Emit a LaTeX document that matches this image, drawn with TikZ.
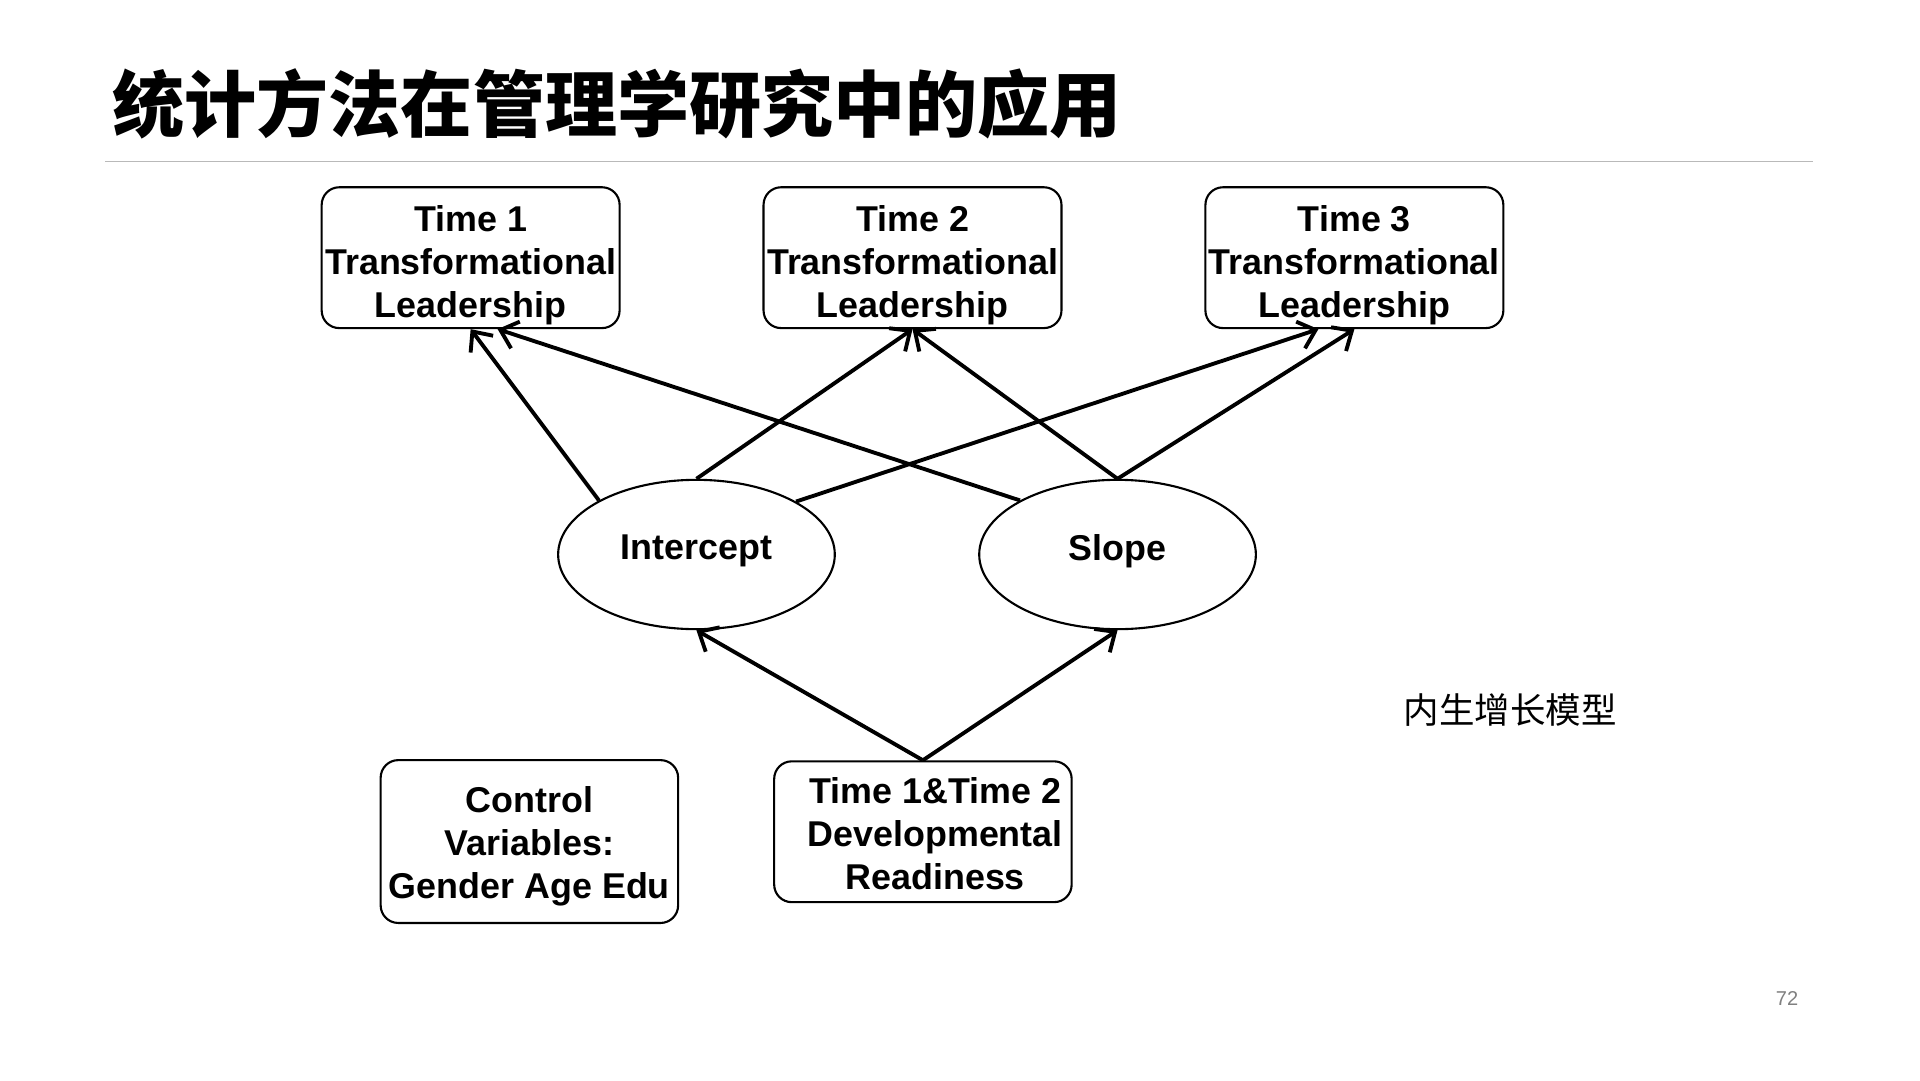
\documentclass[tikz,border=0pt]{standalone}
\usepackage{fontspec}
\setmainfont{Liberation Sans}
\newfontfamily\cjk{Noto Sans CJK SC}
\usepackage{xcolor}
\usepackage{tikz}
\usetikzlibrary{shapes,arrows.meta}
\tikzstyle{block} = [rectangle, draw, rounded corners=5pt, line width=0.6pt, text centered, align=center, inner sep=1pt, minimum width=2.974cm, minimum height=1.408cm, font=\fontsize{10.2}{12.2}\selectfont\bfseries]
\tikzstyle{latent} = [ellipse, draw, line width=0.6pt, minimum width=2.766cm, minimum height=1.493cm, font=\fontsize{10.2}{12.2}\selectfont\bfseries, execute at begin node={\rule[-4.2pt]{0pt}{1pt}}]
\tikzstyle{line} = [draw, line width=1.1pt, -{Straight Barb[length=4.5pt,width=8pt,line width=1.1pt]}]
\newcommand{\lift}[1]{\rule{0pt}{#1}}

\begin{document}
\begin{tikzpicture}[x=0.01224cm,y=-0.01224cm]
\useasboundingbox (0,0) rectangle (1568.6,882.4);
\node [anchor=west, inner sep=0pt, font=\cjk\bfseries\fontsize{20.5}{24}\selectfont] (title) at (91.5,85) {统计方法在管理学研究中的应用};
\draw [gray!55, line width=0.4pt] (86,132) -- (1481,132);

\node [block] (t1) at (384.5,210.5) {\lift{11.5pt}Time 1\\Transformational\\Leadership};
\node [block] (t2) at (745.5,210.5) {\lift{11.5pt}Time 2\\Transformational\\Leadership};
\node [block] (t3) at (1106.5,210.5) {\lift{11.5pt}Time 3\\Transformational\\Leadership};

\node [latent] (icpt) at (569,453) {Intercept};
\node [latent] (slope) at (913,453) {Slope};
\path [line] (icpt.151) -- (t1.south);
\path [line] (icpt.north) -- (t2.south);
\path [line] (icpt.28) -- ([xshift=-0.36cm]t3.south);
\path [line] (slope.151) -- ([xshift=0.27cm]t1.south);
\path [line] (slope.north) -- (t2.south);
\path [line] (slope.north) -- (t3.south);

\node [block, minimum height=1.628cm] (ctrl) at (432.5,687.5) {\lift{10.3pt}Control\\Variables:\\Gender Age Edu};
\node [block] (dev) at (754,679.5) {\lift{8.7pt}\hspace*{7pt}Time 1\&Time 2\\\hspace*{7pt}Developmental\\\hspace*{7pt}Readiness};
\path [line] (dev.north) -- (icpt.south);
\path [line] (dev.north) -- (slope.south);

\node [font=\cjk\fontsize{10.1}{12}\selectfont] (model) at (1234,580) {内生增长模型};
\node [text=gray, font=\fontsize{5.7}{7}\selectfont] (page) at (1460,816) {72};
\end{tikzpicture}
\end{document}
